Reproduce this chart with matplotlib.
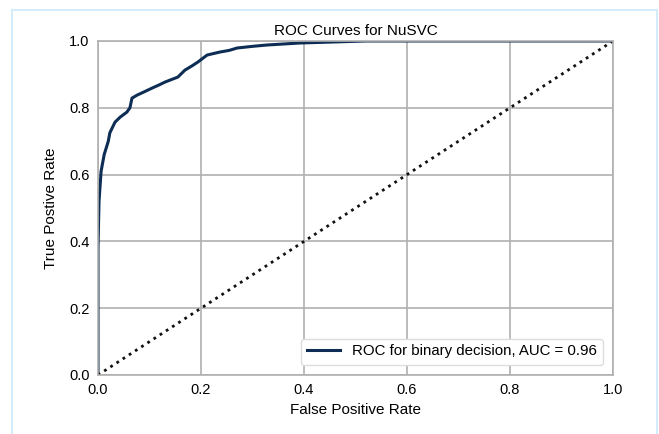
import matplotlib
matplotlib.use("Agg")
import matplotlib.pyplot as plt
from matplotlib.patches import Rectangle

# ROC curve points for the NuSVC classifier
fpr = [0.0, 0.0, 0.002, 0.006, 0.012, 0.02, 0.023, 0.033, 0.043, 0.056, 0.062,
       0.066, 0.076, 0.09, 0.105, 0.118, 0.130, 0.155, 0.169, 0.182, 0.194,
       0.205, 0.212, 0.223, 0.237, 0.255, 0.270, 0.30, 0.328, 0.36, 0.392,
       0.456, 0.52, 0.6, 0.8, 1.0]
tpr = [0.0, 0.38, 0.52, 0.61, 0.66, 0.70, 0.725, 0.757, 0.772, 0.787, 0.80,
       0.829, 0.838, 0.848, 0.859, 0.868, 0.877, 0.892, 0.913, 0.925, 0.937,
       0.950, 0.958, 0.962, 0.967, 0.972, 0.979, 0.984, 0.988, 0.991, 0.994,
       0.997, 1.0, 1.0, 1.0, 1.0]
auc = 0.96

plt.rcParams.update({
    "font.family": ["Liberation Sans", "DejaVu Sans"],
    "font.size": 10,
})

fig = plt.figure(figsize=(6.59, 4.34), dpi=100)
ax = fig.add_axes([98 / 659, 1 - 375 / 434, 515 / 659, 334 / 434])

# light blue frame around the figure
fig.patches.append(Rectangle((12 / 659, -0.05), 645 / 659, 1.05 - 10 / 434,
                             transform=fig.transFigure, fill=False,
                             edgecolor="#d4ecf9", linewidth=1.5))

ax.plot(fpr, tpr, color="#0d2d55", linewidth=2.2,
        label=f"ROC for binary decision, AUC = {auc:.2f}")
ax.plot([0, 1], [0, 1], linestyle=":", color="#111111", linewidth=2)

ax.set_xlim(0, 1)
ax.set_ylim(0, 1)
ax.set_xticks([0.0, 0.2, 0.4, 0.6, 0.8, 1.0])
ax.set_yticks([0.0, 0.2, 0.4, 0.6, 0.8, 1.0])
ax.grid(True, color="#b0b0b0", linewidth=1.2)
ax.set_axisbelow(True)
for s in ax.spines.values():
    s.set_color("#b0b0b0")
    s.set_linewidth(1.2)
ax.tick_params(length=0, pad=6, labelsize=10.5)

ax.set_title("ROC Curves for NuSVC", fontsize=11, pad=4)
ax.set_xlabel("False Positive Rate", fontsize=11, labelpad=4)
ax.set_ylabel("True Postive Rate", fontsize=11, labelpad=8)

leg = ax.legend(loc="lower right", frameon=True, fontsize=10.8,
                handlelength=2.2, borderaxespad=0.7)
leg.get_frame().set_edgecolor("#dddddd")
leg.get_frame().set_facecolor("white")
leg.get_frame().set_alpha(1)

fig.savefig("out.png", dpi=100)
